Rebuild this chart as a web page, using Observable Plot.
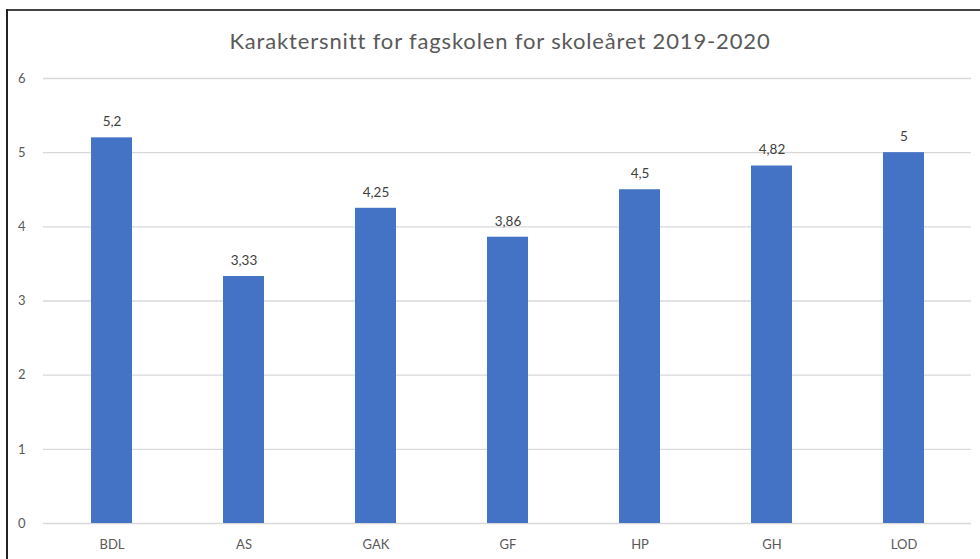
<!DOCTYPE html>
<html>
<head>
<meta charset="utf-8">
<script src="https://cdn.jsdelivr.net/npm/d3@7"></script>
<script src="https://cdn.jsdelivr.net/npm/@observablehq/plot@0.6"></script>
<style>
  html, body { margin: 0; padding: 0; background: #fff; }
  #wrap { position: relative; width: 980px; height: 559px; overflow: hidden; font-family: Lato, "Open Sans", sans-serif; }
  #title { position: absolute; left: 10px; width: 980px; top: 27px; text-align: center; font-size: 22px; letter-spacing: 0.85px; color: #595959; }
  #bt { position: absolute; left: 6px; top: 9px; width: 974px; height: 2px; background: #444; }
  #bl { position: absolute; left: 6px; top: 9px; width: 2px; height: 550px; background: #222; }
  #chart { position: absolute; left: 0; top: 0; }
</style>
</head>
<body>
<div id="wrap">
  <div id="chart"></div>
  <div id="title">Karaktersnitt for fagskolen for skoleåret 2019-2020</div>
  <div id="bt"></div>
  <div id="bl"></div>
</div>
<script>
const categories = ["BDL", "AS", "GAK", "GF", "HP", "GH", "LOD"];
const values = [5.2, 3.33, 4.25, 3.86, 4.5, 4.82, 5];
const yTicks = [0, 1, 2, 3, 4, 5, 6];

const data = categories.map((c, i) => ({ cat: c, v: values[i] }));
const fmt = v => String(v).replace(".", ",");

const plot = Plot.plot({
  width: 980,
  height: 559,
  marginLeft: 43,
  marginRight: 9,
  marginTop: 78,
  marginBottom: 36,
  style: { fontFamily: "Lato, 'Open Sans', sans-serif", fontSize: "13px", color: "#595959", background: "transparent" },
  x: { domain: categories, paddingInner: 0.69, paddingOuter: 0.345, label: null },
  y: { domain: [0, 6], label: null },
  marks: [
    Plot.ruleY(yTicks, { stroke: "#d9d9d9", strokeWidth: 1.3 }),
    Plot.barY(data, { x: "cat", y: "v", fill: "#4472c4" }),
    Plot.text(data, { x: "cat", y: "v", text: d => fmt(d.v), dy: -16, fill: "#404040", fontSize: 13.5 }),
    Plot.axisY(yTicks, { tickSize: 0, tickPadding: 18, tickFormat: d => String(d), fill: "#595959", fontSize: 13 }),
    Plot.axisX({ tickSize: 0, tickPadding: 16, fill: "#595959", fontSize: 13 })
  ]
});
document.getElementById("chart").appendChild(plot);
</script>
</body>
</html>
